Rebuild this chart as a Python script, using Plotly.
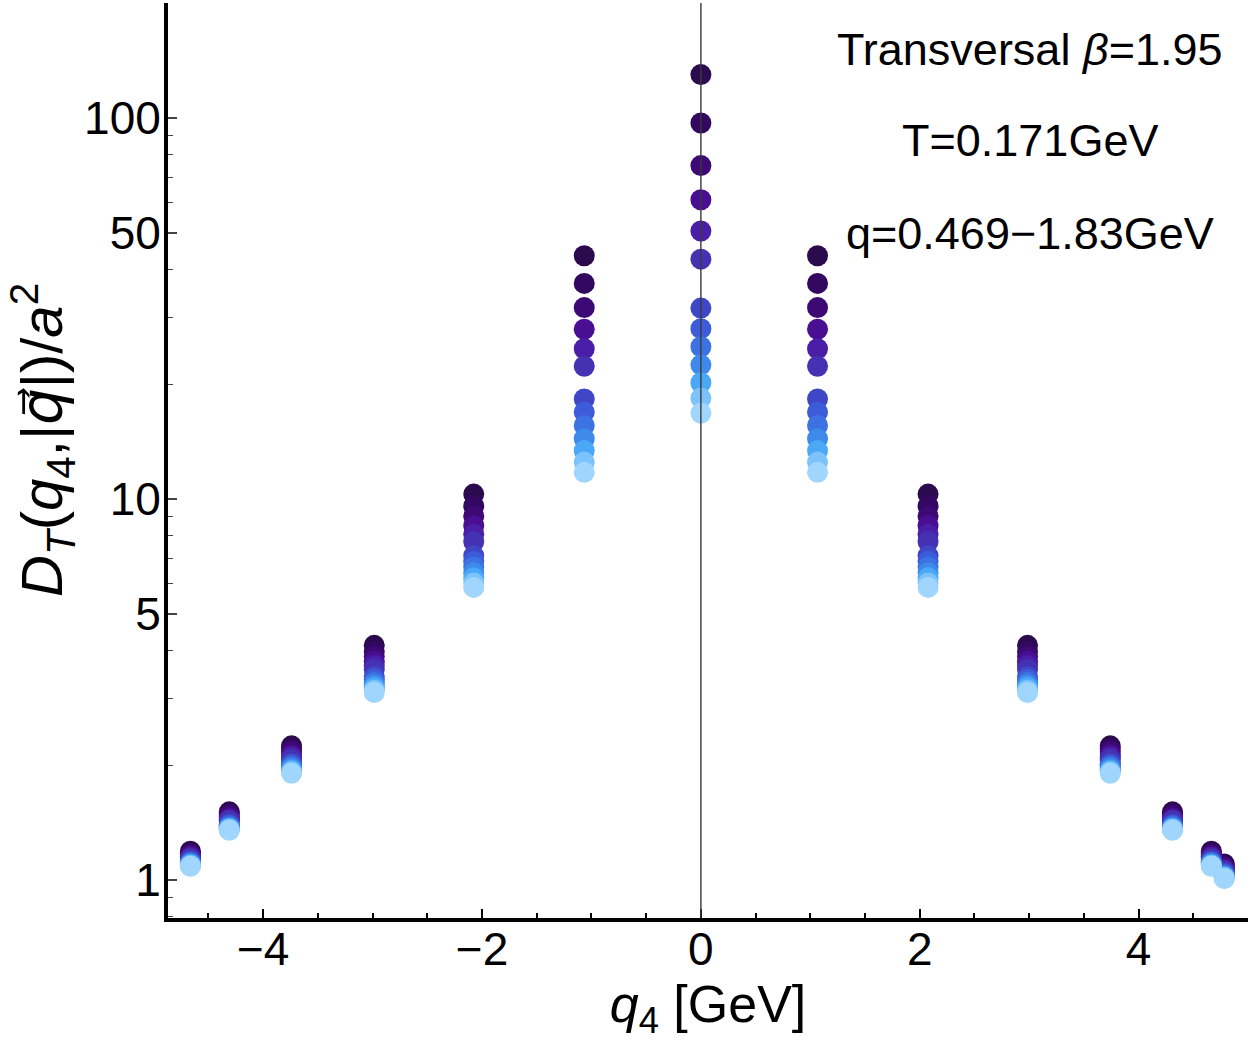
import plotly.graph_objects as go

# q4 positions (GeV) of the point columns
q4_left = [-4.665, -4.31, -3.741, -2.985, -2.076, -1.066]
q4_center = [0.0]
q4_right = [1.066, 2.076, 2.985, 3.741, 4.31, 4.665, 4.783]

# D_T values for each column, one entry per momentum series (largest first)
col_0 = [130, 97, 75, 61, 50.5, 42.6, 31.7, 28.0, 25.1, 22.5, 20.2, 18.4, 16.8]
col_1066 = [43.5, 36.8, 31.8, 27.9, 24.8, 22.3, 18.3, 16.9, 15.6, 14.4, 13.4, 12.5, 11.75]
col_2076 = [10.3, 9.59, 9.01, 8.51, 8.08, 7.73, 7.10, 6.85, 6.63, 6.40, 6.21, 6.02, 5.86]
col_2985 = [4.13, 3.98, 3.86, 3.75, 3.65, 3.57, 3.42, 3.36, 3.30, 3.25, 3.20, 3.15, 3.105]
col_3741 = [2.25, 2.21, 2.17, 2.13, 2.10, 2.07, 2.02, 2.00, 1.98, 1.96, 1.94, 1.92, 1.905]
col_4310 = [1.51, 1.49, 1.47, 1.45, 1.44, 1.43, 1.40, 1.39, 1.38, 1.37, 1.365, 1.36, 1.35]
col_4665 = [1.19, 1.176, 1.164, 1.154, 1.144, 1.136, 1.12, 1.114, 1.108, 1.102, 1.096, 1.091, 1.087]
col_4783 = [1.102, 1.09, 1.079, 1.069, 1.061, 1.054, 1.04, 1.034, 1.029, 1.023, 1.018, 1.014, 1.009]

left_cols = [col_4665, col_4310, col_3741, col_2985, col_2076, col_1066]
center_cols = [col_0]
right_cols = [col_1066, col_2076, col_2985, col_3741, col_4310, col_4665, col_4783]

series_colors = ["#2b0a4e", "#330860", "#3d0a75", "#4a0e92", "#4a1ea6", "#4532b3",
                 "#3f47c7", "#3d5cd9", "#3d72e2", "#3e8aeb", "#4aa8f6", "#7cc2fb", "#a0d6fd"]

x_tickvals = [-4, -2, 0, 2, 4]
x_ticktext = ["\u22124", "\u22122", "0", "2", "4"]
x_minor = [-4.5, -3.5, -3, -2.5, -1.5, -1, -0.5, 0.5, 1, 1.5, 2.5, 3, 3.5, 4.5]
y_tickvals = [1, 5, 10, 50, 100]
y_ticktext = ["1", "5", "10", "50", "100"]
y_minor = [0.8, 0.9, 2, 3, 4, 6, 7, 8, 9, 20, 30, 40, 60, 70, 80, 90]

annotation_lines = ["Transversal <i>\u03b2</i>=1.95", "T=0.171GeV", "q=0.469\u22121.83GeV"]

FONT = "Liberation Sans, Arial, Helvetica, sans-serif"

xs = q4_left + q4_center + q4_right
cols = left_cols + center_cols + right_cols

fig = go.Figure()
for i, color in enumerate(series_colors):
    fig.add_trace(go.Scatter(
        x=xs, y=[c[i] for c in cols], mode="markers",
        marker=dict(size=21, color=color, line=dict(width=0)),
        showlegend=False, cliponaxis=True))

fig.add_shape(type="line", x0=0, x1=0, xref="x", y0=0, y1=1, yref="paper",
              line=dict(color="#3a3a3a", width=1.4), layer="above")

W, H = 1250, 1042
ml, mr, mt, mb = 168, 2, 3, 124
pw, ph = W - ml - mr, H - mt - mb

def py(pix):
    return 1 - (pix - mt) / ph

def px(pix):
    return (pix - ml) / pw

for txt, ypix in zip(annotation_lines, [50, 140, 233]):
    fig.add_annotation(text=txt, x=px(1030), y=py(ypix), xref="paper", yref="paper",
                       showarrow=False, xanchor="center", yanchor="middle",
                       font=dict(size=45, color="black", family=FONT))

fig.add_annotation(
    text=("<i>D</i><sub><i>T</i></sub>(<i>q</i><sub>4</sub>,|"
          "<span style=\"font-family:DejaVu Sans\"><i>q\u20d7</i></span>"
          "|)/<i>a</i><sup>2</sup>"),
    x=px(42), y=py(440), xref="paper", yref="paper", textangle=-90,
    showarrow=False, xanchor="center", yanchor="middle",
    font=dict(size=58, color="black", family=FONT))

fig.update_layout(
    width=W, height=H,
    margin=dict(l=ml, r=mr, t=mt, b=mb, pad=0),
    paper_bgcolor="white", plot_bgcolor="white",
    font=dict(family=FONT, color="black"),
    xaxis=dict(range=[-4.87, 5.0], showgrid=False, zeroline=False,
               showline=True, linecolor="black", linewidth=4,
               tickmode="array", tickvals=x_tickvals, ticktext=x_ticktext,
               ticks="inside", ticklen=9, tickwidth=2, tickcolor="black",
               tickfont=dict(size=46, family=FONT), ticklabelstandoff=-12,
               minor=dict(tickmode="array", tickvals=x_minor, ticks="inside",
                          ticklen=5, tickwidth=1.5, tickcolor="black"),
               title=dict(text="<i>q</i><sub>4</sub> [GeV]", font=dict(size=52, family=FONT), standoff=10),
               layer="above traces"),
    yaxis=dict(type="log", range=[-0.0997, 2.3018], showgrid=False, zeroline=False,
               showline=True, linecolor="black", linewidth=4,
               tickmode="array", tickvals=y_tickvals, ticktext=y_ticktext,
               ticks="inside", ticklen=9, tickwidth=1.5, tickcolor="#444444",
               tickfont=dict(size=46, family=FONT), ticklabelstandoff=-6,
               minor=dict(tickmode="array", tickvals=y_minor, ticks="inside",
                          ticklen=5, tickwidth=1, tickcolor="#444444"),
               layer="above traces"),
)

fig.write_html("out.html", config={"displayModeBar": False},
               post_script="document.body.style.margin='0';")
